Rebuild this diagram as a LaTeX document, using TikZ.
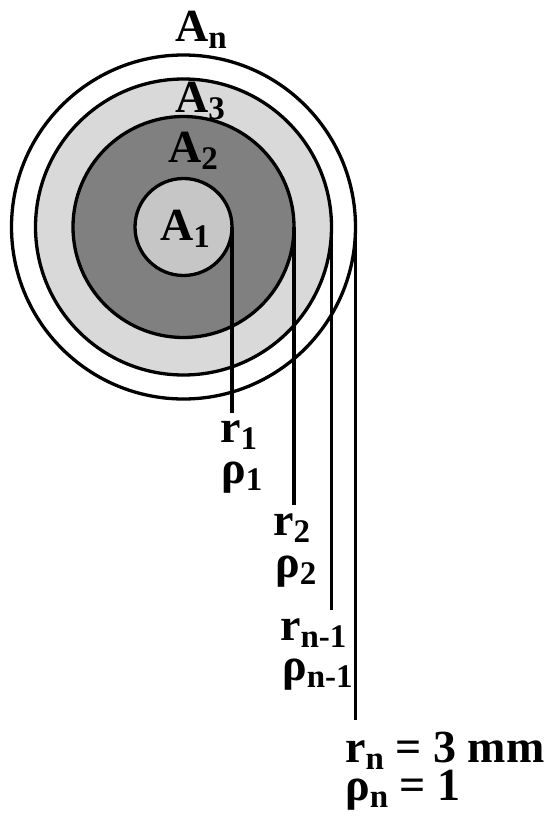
\documentclass[tikz,border=0pt]{standalone}
\usepackage{fontspec}
\setmainfont{Liberation Serif}
\usetikzlibrary{positioning}
\definecolor{CoreGray}{RGB}{198,198,198}
\definecolor{MidGray}{RGB}{128,128,128}
\definecolor{RingGray}{RGB}{217,217,217}
\newcommand{\lowsub}[2]{#1\raisebox{-7pt}[0pt][0pt]{\fontsize{33}{33}\selectfont #2}}
\tikzset{
	disc/.style={circle,draw=black,line width=3.3pt,inner sep=0pt,outer sep=0pt},
	lead/.style={draw=black,line width=3.3pt},
	tag/.style={font=\fontsize{46}{50}\selectfont\bfseries,inner sep=0pt,anchor=base west},
}
\begin{document}
\begin{tikzpicture}[x=1pt,y=-1pt]
			\useasboundingbox (0,0) rectangle (549,821);
			\foreach \i/\r/\c in {4/172/white,3/148/RingGray,2/110.5/MidGray,1/48.5/CoreGray}
			\node[disc,fill=\c,minimum size=2*\r] (ring\i) at (183.5,227) {};
			\foreach \i/\y in {1/413,2/505,3/610,4/720}
			\draw[lead] (ring\i.east) -- (ring\i.east |- 0,\y);
			\node[tag] (an) at (175,42) {\lowsub{A}{n}};
			\node[tag] (a3) at (175,113) {\lowsub{A}{3}};
			\node[tag] (a2) at (168,163) {\lowsub{A}{2}};
			\node[tag] (a1) at (160,240) {\lowsub{A}{1}};
			\node[tag] (r1) at (220,442) {\lowsub{r}{1}};
			\node[tag] (rho1) at (221,483) {\lowsub{ρ}{1}};
			\node[tag] (r2) at (273,535) {\lowsub{r}{2}};
			\node[tag] (rho2) at (275,577) {\lowsub{ρ}{2}};
			\node[tag] (rm) at (280,640) {\lowsub{r}{n-1}};
			\node[tag] (rhom) at (282,680) {\lowsub{ρ}{n-1}};
			\node[tag] (rn) at (345,762) {\lowsub{r}{n} = 3 mm};
			\node[tag] (rhon) at (345,800) {\lowsub{ρ}{n} = 1};
		\end{tikzpicture}
\end{document}
